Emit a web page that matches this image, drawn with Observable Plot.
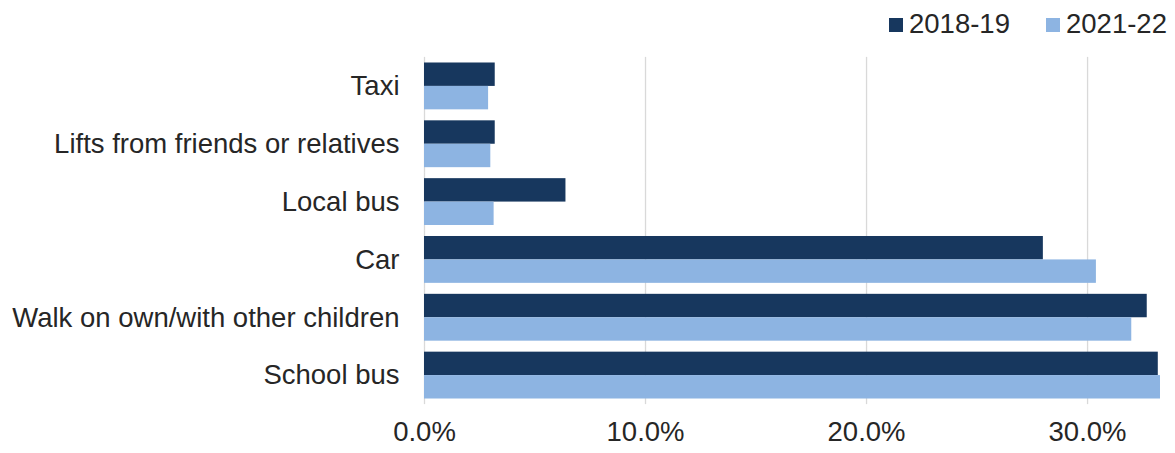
<!DOCTYPE html>
<html>
<head>
<meta charset="utf-8">
<script src="https://cdn.jsdelivr.net/npm/d3@7"></script>
<script src="https://cdn.jsdelivr.net/npm/@observablehq/plot@0.6"></script>
<style>
  body { margin: 0; background: #fff; }
  #wrap { position: relative; width: 1175px; height: 453px; font-family: "Liberation Sans", Arial, sans-serif; color: #262626; }
  .leg { position: absolute; top: 8px; display: flex; align-items: center; font-size: 27.5px; line-height: 31px; }
  .sw { width: 14px; height: 14px; margin-right: 6px; margin-top: 3px; }
</style>
</head>
<body>
<div id="wrap"></div>
<script>
const categories = ["Taxi", "Lifts from friends or relatives", "Local bus", "Car", "Walk on own/with other children", "School bus"];
const seriesNames = ["2018-19", "2021-22"];
const values2018 = [3.2, 3.2, 6.4, 28.0, 32.7, 33.2];
const values2021 = [2.9, 3.0, 3.15, 30.4, 32.0, 33.3];
const colors = ["#17375E", "#8DB4E2"];
const xTicks = [0, 10, 20, 30];

const rows = [];
categories.forEach((c, i) => {
  rows.push({category: c, series: seriesNames[0], value: values2018[i]});
  rows.push({category: c, series: seriesNames[1], value: values2021[i]});
});

const chart = Plot.plot({
  width: 1175,
  height: 453,
  marginLeft: 424,
  marginRight: 15,
  marginTop: 57,
  marginBottom: 49,
  style: {fontFamily: "'Liberation Sans', Arial, sans-serif", fontSize: "27.5px", color: "#262626", background: "transparent"},
  x: {domain: [0, 33.3], ticks: xTicks, tickFormat: d => d.toFixed(1) + "%", tickSize: 0, tickPadding: 22, label: null},
  fy: {domain: categories, paddingInner: 0.19, paddingOuter: 0.095, round: false, axis: "left", tickSize: 0, tickPadding: 25, label: null},
  y: {domain: seriesNames, padding: 0, round: false, axis: null},
  color: {domain: seriesNames, range: colors},
  marks: [
    Plot.ruleX(xTicks, {stroke: "#d9d9d9", strokeWidth: 1.3, insetTop: -5.6, insetBottom: -5.6}),
    Plot.barX(rows, {x: "value", y: "series", fy: "category", fill: "series"})
  ]
});

const wrap = document.getElementById("wrap");
wrap.appendChild(chart);

const legendLeft = [889, 1046];
seriesNames.forEach((s, i) => {
  const item = document.createElement("div");
  item.className = "leg";
  item.style.left = legendLeft[i] + "px";
  const sw = document.createElement("span");
  sw.className = "sw";
  sw.style.background = colors[i];
  const t = document.createElement("span");
  t.textContent = s;
  item.appendChild(sw);
  item.appendChild(t);
  wrap.appendChild(item);
});
chart.style.position = "absolute";
chart.style.left = "0";
chart.style.top = "0";
</script>
</body>
</html>
